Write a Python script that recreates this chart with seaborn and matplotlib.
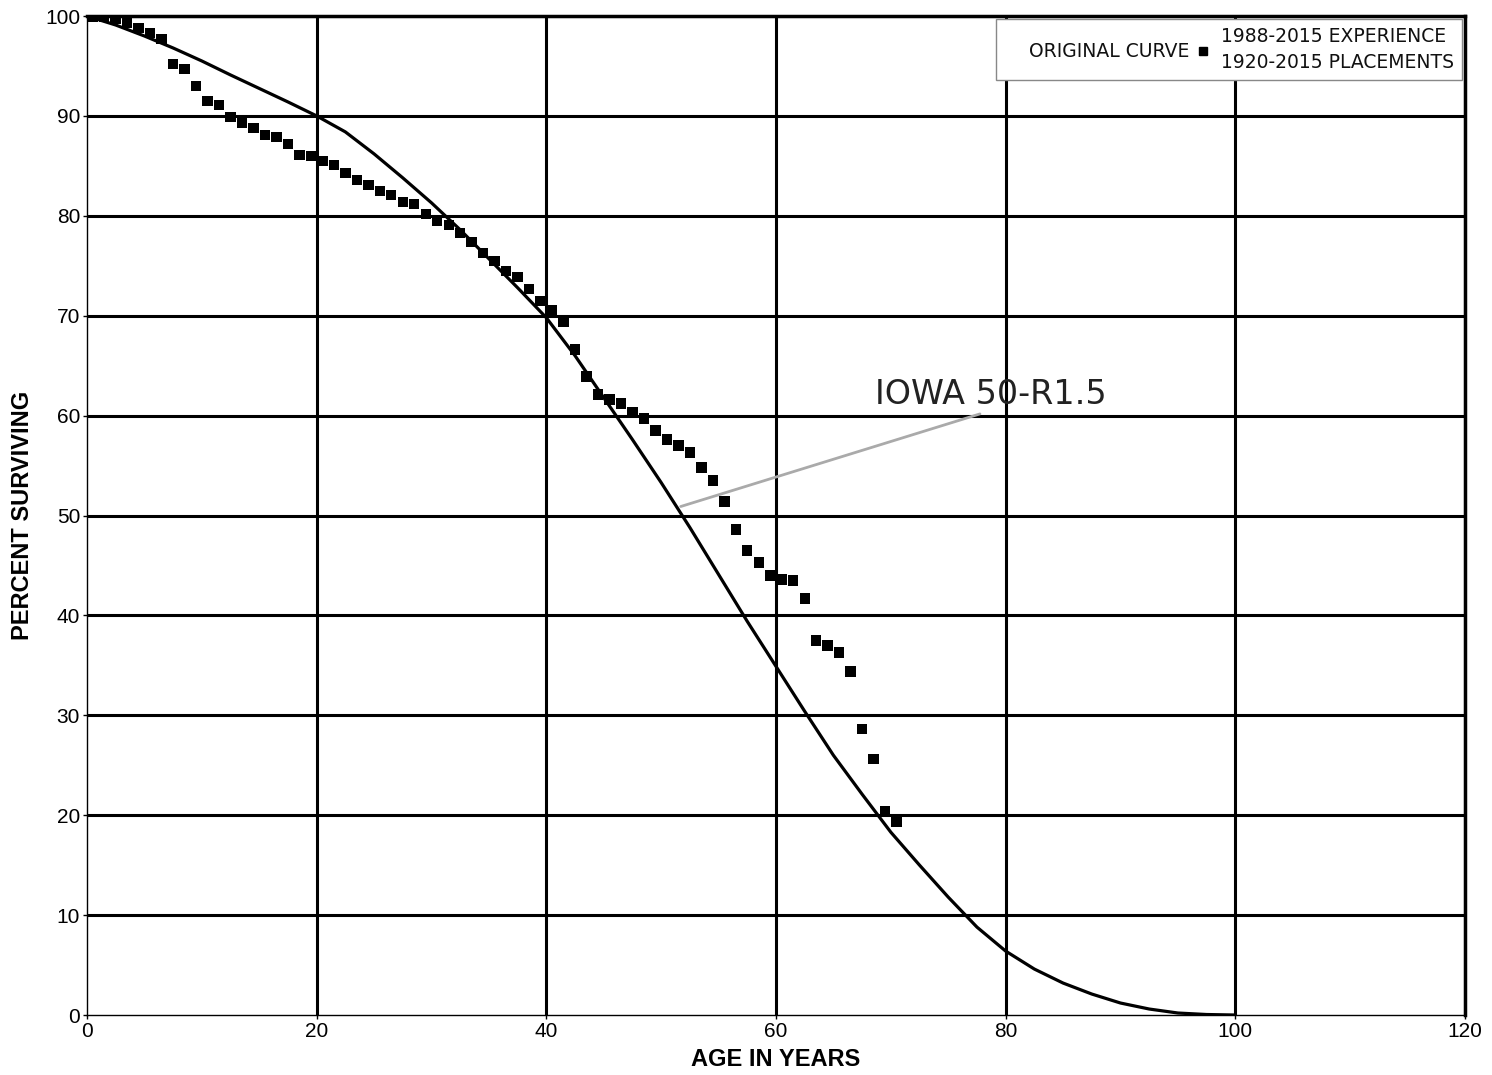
import numpy as np
import pandas as pd
import seaborn as sns
import matplotlib.pyplot as plt
from matplotlib.lines import Line2D

# ---------------- data ----------------
# Observed life table (1988-2015 experience, 1920-2015 placements)
obs_age = [0.5, 1.5, 2.5, 3.5, 4.5, 5.5, 6.5, 7.5, 8.5, 9.5,
           10.5, 11.5, 12.5, 13.5, 14.5, 15.5, 16.5, 17.5, 18.5, 19.5,
           20.5, 21.5, 22.5, 23.5, 24.5, 25.5, 26.5, 27.5, 28.5, 29.5,
           30.5, 31.5, 32.5, 33.5, 34.5, 35.5, 36.5, 37.5, 38.5, 39.5,
           40.5, 41.5, 42.5, 43.5, 44.5, 45.5, 46.5, 47.5, 48.5, 49.5,
           50.5, 51.5, 52.5, 53.5, 54.5, 55.5, 56.5, 57.5, 58.5, 59.5,
           60.5, 61.5, 62.5, 63.5, 64.5, 65.5, 66.5, 67.5, 68.5, 69.5,
           70.5]
obs_pct = [99.9, 99.9, 99.7, 99.3, 98.8, 98.3, 97.7, 95.2, 94.7, 93.0,
           91.5, 91.1, 89.9, 89.3, 88.8, 88.1, 87.9, 87.2, 86.1, 86.0,
           85.5, 85.1, 84.3, 83.6, 83.1, 82.5, 82.1, 81.4, 81.2, 80.2,
           79.5, 79.1, 78.3, 77.4, 76.3, 75.5, 74.5, 73.9, 72.7, 71.5,
           70.6, 69.4, 66.6, 63.9, 62.1, 61.6, 61.2, 60.3, 59.7, 58.5,
           57.6, 57.0, 56.3, 54.8, 53.5, 51.4, 48.6, 46.5, 45.3, 44.0,
           43.6, 43.5, 41.7, 37.5, 37.0, 36.3, 34.4, 28.6, 25.6, 20.4,
           19.3]

# Iowa 50-R1.5 survivor curve
curve_age = [0, 2.5, 5, 7.5, 10, 12.5, 15, 17.5, 20, 22.5, 25, 27.5, 30,
             32.5, 35, 37.5, 40, 42.5, 45, 47.5, 50, 52.5, 55, 57.5, 60,
             62.5, 65, 67.5, 70, 72.5, 75, 77.5, 80, 82.5, 85, 87.5, 90,
             92.5, 95, 97.5, 100]
curve_pct = [100.0, 99.1, 98.0, 96.8, 95.5, 94.1, 92.75, 91.4, 90.0, 88.4,
             86.2, 83.8, 81.3, 78.6, 75.7, 72.8, 69.8, 66.0, 61.8, 57.6,
             53.3, 48.8, 44.1, 39.4, 34.9, 30.4, 26.0, 22.1, 18.3, 15.0,
             11.8, 8.8, 6.4, 4.6, 3.2, 2.1, 1.2, 0.6, 0.2, 0.05, 0.0]

x_ticks = [0, 20, 40, 60, 80, 100, 120]
y_ticks = [0, 10, 20, 30, 40, 50, 60, 70, 80, 90, 100]

curve_label = "IOWA 50-R1.5"
curve_label_point = (51.7, 50.9)
curve_label_text_pos = (68.6, 61.2)

legend_labels = ["ORIGINAL CURVE", "1988-2015 EXPERIENCE\n1920-2015 PLACEMENTS"]

obs_df = pd.DataFrame({"age": obs_age, "pct": obs_pct})
curve_df = pd.DataFrame({"age": curve_age, "pct": curve_pct})

# ---------------- plot ----------------
sns.set_theme(style="white")
plt.rcParams["font.family"] = ["Liberation Sans", "DejaVu Sans"]

fig = plt.figure(figsize=(14.92, 10.75), dpi=100)
ax = fig.add_axes([0.0583, 0.0558, 0.9236, 0.9293])

sns.lineplot(data=curve_df, x="age", y="pct", color="black", linewidth=2.3,
             ax=ax, zorder=3, sort=True)
sns.scatterplot(data=obs_df, x="age", y="pct", marker="s", s=56,
                color="black", edgecolor="none", linewidth=0, ax=ax, zorder=4)

ax.set_xlim(0, 120)
ax.set_ylim(0, 100)
ax.set_xticks(x_ticks)
ax.set_yticks(y_ticks)
ax.set_axisbelow(True)
ax.grid(True, color="black", linewidth=2.2)
ax.get_xgridlines()[0].set_visible(False)
ax.get_ygridlines()[0].set_visible(False)

for side in ["left", "bottom"]:
    ax.spines[side].set_linewidth(1.0)
    ax.spines[side].set_color("black")
for side in ["top", "right"]:
    ax.spines[side].set_linewidth(2.5)
    ax.spines[side].set_color("black")

ax.tick_params(axis="both", direction="out", length=3, width=1, pad=2,
               labelsize=15, colors="black", bottom=True, left=True)

ax.set_xlabel("AGE IN YEARS", fontsize=17, fontweight="bold", labelpad=5,
              color="black")
ax.set_ylabel("PERCENT SURVIVING", fontsize=17, fontweight="bold",
              labelpad=8, color="black")

ax.annotate(curve_label, xy=curve_label_point, xytext=curve_label_text_pos,
            textcoords="data", ha="left", va="baseline", fontsize=24,
            color="#222222", family="DejaVu Sans",
            arrowprops=dict(arrowstyle="-", color="#aaaaaa", lw=2.0,
                            shrinkA=0, shrinkB=0, relpos=(0.5, 0.0)))

h_curve = Line2D([], [], linestyle="none")
h_obs = Line2D([], [], linestyle="none", marker="s", color="black",
               markersize=6)
leg = ax.legend([h_curve, h_obs], legend_labels, ncol=2, loc="upper right",
                bbox_to_anchor=(1.0, 1.0), borderaxespad=0.15, frameon=True,
                fancybox=False, edgecolor="#888888", framealpha=1.0,
                prop={"family": "DejaVu Sans", "size": 13.5},
                handlelength=0.8, handletextpad=0.55, columnspacing=0.3,
                borderpad=0.45)
leg.get_frame().set_linewidth(1.0)
for t in leg.get_texts():
    t.set_linespacing(1.45)
    t.set_color("#111111")

fig.savefig("out.png", dpi=100)
